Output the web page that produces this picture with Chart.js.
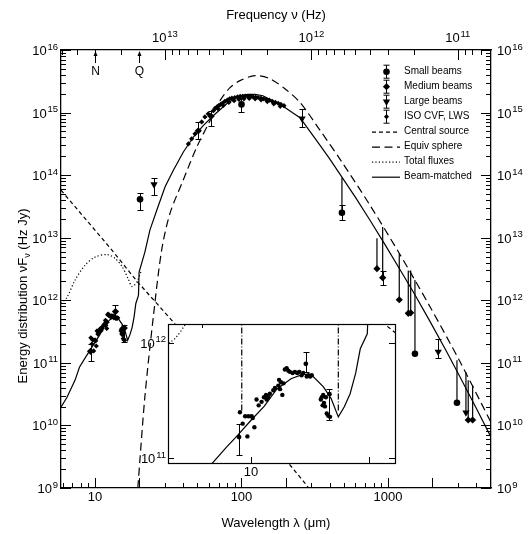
<!DOCTYPE html>
<html>
<head>
<meta charset="utf-8">
<title>Spectral energy distribution</title>
<script src="https://cdn.jsdelivr.net/npm/chart.js@4.4.1/dist/chart.umd.min.js"></script>
<style>
  html, body { margin: 0; padding: 0; background: #fff; }
  #wrap { position: relative; width: 529px; height: 534px; }
  #sed { position: absolute; left: 0; top: 0; }
  #zoom { position: absolute; left: 130px; top: 316px; }
</style>
</head>
<body>
<div id="wrap">
  <canvas id="sed" width="529" height="534"></canvas>
  <canvas id="zoom" width="270" height="175"></canvas>
</div>
<script>
const FONT = '"Liberation Sans", Arial, Helvetica, sans-serif';
const C_UM = 2.998e14; // speed of light in um*Hz

// axis ranges
const waveMin = 5.86, waveMax = 5050;
const fluxMin = 1e9, fluxMax = 1e16;
const zoomWaveMin = 6.14, zoomWaveMax = 23.3;
const zoomFluxMin = 9.12e10, zoomFluxMax = 1.46e12;

// labelled ticks
const waveLabels = [10, 100, 1000];
const freqLabels = [1e11, 1e12, 1e13];
const fluxLabels = [1e9, 1e10, 1e11, 1e12, 1e13, 1e14, 1e15, 1e16];

// atmospheric windows marked along the top
const bandNames = ['N', 'Q'];
const bandWave = [10, 20];

// photometry, wavelength in um, nuFnu in Hz Jy
const smallWave = [20.3, 100, 485, 1528, 2958];
const smallFlux = [4.1e13, 1.35e15, 2.5e13, 1.4e11, 2.3e10];
const smallLow  = [2.8e13, 1.02e15, 1.9e13, null, null];
const smallHigh = [5.1e13, 1.74e15, 3.3e13, null, null];

const mediumWave = [9.32, 13.8, 15.85, 50.7, 62, 841, 920, 1194, 1376, 1429, 3530, 3784];
const mediumFlux = [1.53e11, 6.6e11, 3.6e11, 5.1e14, 8.7e14, 3.2e12, 2.3e12, 1.02e12, 6.2e11, 6.3e11, 1.22e10, 1.22e10];
const mediumLow  = [1.08e11, 5.6e11, 2.15e11, 3.8e14, 6.2e14, null, 1.74e12, null, null, null, null, null];
const mediumHigh = [2.0e11, 8.3e11, 4.0e11, 7.1e14, 1.07e15, null, 2.9e12, null, null, null, null, null];

const largeWave = [25.3, 259, 2203, 3406];
const largeFlux = [7.1e13, 8.0e14, 1.5e11, 1.6e10];
const largeLow  = [4.8e13, 5.8e14, 1.19e11, null];
const largeHigh = [8.9e13, 1.15e15, 2.45e11, null];

// ISO spectra
const cvfWave = [9.37, 9.52, 9.66, 9.79, 9.85, 10.04, 10.1, 10.2, 10.33, 10.46,
  10.64, 10.79, 10.92, 10.96, 11.07, 11.17, 11.40, 11.51, 11.74, 11.79,
  11.86, 11.92, 12.02, 12.10, 12.20, 12.33, 12.45, 12.56, 12.77, 12.94,
  13.12, 13.28, 13.46, 13.59, 13.87, 14.00, 14.15, 14.29, 15.07, 15.15,
  15.23, 15.28, 15.35, 15.44, 15.53, 15.60, 15.74, 15.91];
const cvfFlux = [2.51e11, 2.0e11, 2.32e11, 1.55e11, 2.32e11, 2.32e11, 2.24e11, 1.86e11, 3.24e11, 2.88e11,
  3.09e11, 3.39e11, 3.55e11, 3.24e11, 3.39e11, 3.63e11, 3.89e11, 4.07e11, 4.27e11, 4.79e11,
  3.98e11, 4.57e11, 3.55e11, 4.47e11, 5.89e11, 6.03e11, 5.75e11, 5.62e11, 5.50e11, 5.62e11,
  5.50e11, 5.62e11, 5.25e11, 5.50e11, 5.13e11, 5.25e11, 5.13e11, 5.25e11, 3.24e11, 3.39e11,
  2.88e11, 3.55e11, 3.02e11, 2.82e11, 3.39e11, 2.45e11, 2.34e11, 2.29e11];
const lwsWave = [43.4, 45.7, 48.2, 53.5, 56.3, 59.3, 64.2, 66, 68, 70,
  72, 74, 77, 80, 83, 86, 90, 94, 98, 102,
  106, 110, 115, 120, 125, 130, 136, 142, 148, 155,
  162, 170, 178, 186, 195,
  69, 75, 82, 89, 96, 104, 113, 124, 136, 150, 166, 184];
const lwsFlux = [3.16e14, 3.80e14, 4.57e14, 7.08e14, 8.51e14, 9.55e14, 1.07e15, 1.17e15, 1.23e15, 1.29e15,
  1.35e15, 1.41e15, 1.51e15, 1.58e15, 1.66e15, 1.70e15, 1.74e15, 1.78e15, 1.82e15, 1.82e15,
  1.84e15, 1.82e15, 1.82e15, 1.78e15, 1.76e15, 1.74e15, 1.70e15, 1.66e15, 1.62e15, 1.58e15,
  1.51e15, 1.46e15, 1.41e15, 1.35e15, 1.29e15,
  1.15e15, 1.30e15, 1.45e15, 1.55e15, 1.62e15, 1.66e15, 1.68e15, 1.66e15, 1.60e15, 1.50e15, 1.38e15, 1.26e15];

// models
const centralWave = [5.86, 12.65, 19.4, 35.2, 100, 271, 300];
const centralFlux = [5.75e13, 6.92e12, 2.0e12, 4.17e11, 2.0e10, 1.2e9, 8.7e8];

const sphereWave = [19.0, 19.6, 21.9, 25.0, 28.5, 32.5, 39.9, 49.5, 61.0, 71.3, 83.5, 97.7,
  123.7, 156.6, 198, 251, 344, 485, 754, 1207, 1935, 3098, 5050];
const sphereFlux = [4e8, 1.0e9, 2.86e10, 5.4e11, 6.3e12, 2.45e13, 8.2e13, 2.8e14, 7.4e14, 1.55e15, 2.5e15, 3.24e15,
  3.9e15, 3.47e15, 2.4e15, 1.45e15, 5.2e14, 1.62e14, 3.3e13, 5.4e12, 7.9e11, 1.05e11, 1.12e10];

const totalWave = [5.86, 6.44, 7.30, 8.55, 10.0, 12.1, 13.7, 15.3, 16.8, 17.9, 19.4, 20.6];
const totalFlux = [8.9e11, 1.12e12, 2.09e12, 3.63e12, 4.9e12, 5.37e12, 4.68e12, 3.47e12, 2.24e12, 1.66e12, 2.0e12, 2.88e12];

const beamWave = [5.86, 6.44, 7.3, 7.83, 8.67, 9.19, 10.0, 10.8, 11.63, 12.65,
  13.6, 14.3, 15.3, 16.0, 16.7, 17.3, 17.9, 18.5, 19.0, 19.8,
  20.0, 21.9, 23.7, 26.4, 30.1, 34.2, 40.1, 46.9, 54.8, 64.1,
  79.3, 88, 97.7, 110, 123.7, 140, 156.6, 176, 198, 222,
  251, 290, 344, 400, 485, 600, 754, 950, 1207, 1500,
  1935, 2500, 3098, 4000, 5050];
const beamFlux = [1.95e10, 2.82e10, 5.25e10, 8.5e10, 1.26e11, 1.55e11, 2.14e11, 2.82e11, 3.98e11, 4.9e11,
  5.37e11, 5.25e11, 4.17e11, 3.31e11, 2.29e11, 2.8e11, 3.63e11, 5.5e11, 8.9e11, 1.2e12,
  2.82e12, 5.9e12, 1.32e13, 2.75e13, 6.5e13, 1.19e14, 2.34e14, 4.07e14, 6.2e14, 8.9e14,
  1.38e15, 1.62e15, 1.86e15, 1.95e15, 1.95e15, 1.86e15, 1.62e15, 1.4e15, 1.2e15, 1.0e15,
  8.3e14, 5.2e14, 3.0e14, 1.82e14, 9.3e13, 4.4e13, 1.9e13, 7.9e12, 3.1e12, 1.32e12,
  4.6e11, 1.55e11, 6.0e10, 1.9e10, 6.5e9];

// beam-matched model values at the long-wavelength points
const barWave   = [485, 841, 920, 1194, 1376, 1429, 1528, 2958, 3406, 3530, 3784];
const barTop    = [9.1e13, 9.8e12, 1.48e13, 5.6e12, 3.0e12, 3.0e12, 2.1e12, 1.1e11, 7.1e10, 5.25e10, 4.4e10];
const barBottom = [2.5e13, 3.2e12, 2.3e12, 1.02e12, 6.2e11, 6.3e11, 1.4e11, 2.3e10, 1.6e10, 1.22e10, 1.22e10];

// silicate feature limits shown in the zoom panel
const featureWave = [9.47, 16.7];
const featureFlux = [2.6e11, 1.5e12];

Chart.defaults.font.family = FONT;

const pts = (xs, ys) => xs.map((x, i) => ({ x: x, y: ys[i] }));
const segs = (xs, lo, hi) => xs.flatMap((x, i) => [{ x: x, y: lo[i] }, { x: x, y: hi[i] }, { x: x, y: null }]);

function logTicks(lo, hi) {
  const out = [];
  for (let e = Math.floor(Math.log10(lo)); e <= Math.ceil(Math.log10(hi)); e++) {
    for (let m = 1; m < 10; m++) {
      const v = m * Math.pow(10, e);
      if (v >= lo * 0.9999 && v <= hi * 1.0001) out.push(v);
    }
  }
  return out;
}
const isDecade = v => Math.abs(Math.log10(v) - Math.round(Math.log10(v))) < 1e-6;
const lead = v => Math.round(v / Math.pow(10, Math.floor(Math.log10(v) + 1e-9)));

function logAxis(values, extra) {
  return Object.assign({
    type: 'logarithmic',
    grid: { display: false, drawTicks: false },
    border: { display: true, color: '#000', width: 1.3 },
    ticks: { display: false, autoSkip: false },
    afterBuildTicks: s => { s.ticks = values.map(v => ({ value: v })); }
  }, extra);
}

function drawPow(ctx, value, x, y, align) {
  const base = '10', sup = String(Math.round(Math.log10(value)));
  ctx.font = '13px ' + FONT;
  const wb = ctx.measureText(base).width;
  ctx.font = '9.5px ' + FONT;
  const ws = ctx.measureText(sup).width;
  const w = wb + 0.8 + ws;
  const x0 = align === 'right' ? x - w : align === 'center' ? x - w / 2 : x;
  ctx.textAlign = 'left';
  ctx.textBaseline = 'alphabetic';
  ctx.font = '13px ' + FONT;
  ctx.fillText(base, x0, y + 5);
  ctx.font = '9.5px ' + FONT;
  ctx.fillText(sup, x0 + wb + 0.8, y - 0.5);
}

function drawMark(ctx, style, r, rot, x, y) {
  ctx.beginPath();
  if (style === 'circle') {
    ctx.arc(x, y, r, 0, Math.PI * 2);
  } else if (style === 'rectRot') {
    ctx.moveTo(x, y - r); ctx.lineTo(x + r, y); ctx.lineTo(x, y + r); ctx.lineTo(x - r, y); ctx.closePath();
  } else {
    const s = rot ? -1 : 1;
    ctx.moveTo(x, y - s * r);
    ctx.lineTo(x + r * 0.866, y + s * r / 2);
    ctx.lineTo(x - r * 0.866, y + s * r / 2);
    ctx.closePath();
  }
  ctx.fill();
}

function capBar(ctx, x, y1, y2, w) {
  ctx.beginPath();
  ctx.moveTo(x, y1); ctx.lineTo(x, y2);
  ctx.moveTo(x - w, y1); ctx.lineTo(x + w, y1);
  ctx.moveTo(x - w, y2); ctx.lineTo(x + w, y2);
  ctx.stroke();
}

const errorBars = {
  id: 'errorBars',
  afterDatasetsDraw(chart) {
    const { ctx, chartArea: a } = chart;
    ctx.save();
    ctx.beginPath();
    ctx.rect(a.left, a.top, a.right - a.left, a.bottom - a.top);
    ctx.clip();
    ctx.strokeStyle = '#000';
    ctx.lineWidth = 1;
    chart.data.datasets.forEach(ds => {
      if (!ds.lo) return;
      const xs = chart.scales.x, ys = chart.scales.y;
      ds.data.forEach((p, j) => {
        if (ds.lo[j] == null || ds.hi[j] == null) return;
        const x = Math.round(xs.getPixelForValue(p.x)) + 0.5;
        capBar(ctx, x, Math.round(ys.getPixelForValue(ds.lo[j])) + 0.5, Math.round(ys.getPixelForValue(ds.hi[j])) + 0.5, 3);
      });
    });
    ctx.restore();
  }
};

// inward tick marks, tick labels, titles and anything else drawn around the frame
function axisDecor(spec) {
  return {
    id: 'axisDecor',
    afterDraw(chart) {
      const { ctx, chartArea: a } = chart;
      ctx.save();
      ctx.strokeStyle = '#000';
      ctx.fillStyle = '#000';
      ctx.lineWidth = 1;
      spec.ticks.forEach(t => {
        const s = chart.scales[t.scale];
        t.values.forEach(v => {
          const len = t.len(v);
          const p = Math.round(s.getPixelForValue(v)) + 0.5;
          ctx.beginPath();
          if (t.side === 'bottom') { ctx.moveTo(p, a.bottom); ctx.lineTo(p, a.bottom - len); }
          if (t.side === 'top') { ctx.moveTo(p, a.top); ctx.lineTo(p, a.top + len); }
          if (t.side === 'left') { ctx.moveTo(a.left, p); ctx.lineTo(a.left + len, p); }
          if (t.side === 'right') { ctx.moveTo(a.right, p); ctx.lineTo(a.right - len, p); }
          ctx.stroke();
        });
      });
      spec.labels.forEach(l => {
        const s = chart.scales[l.scale];
        l.values.forEach(v => {
          const p = s.getPixelForValue(v);
          if (l.side === 'left') drawPow(ctx, v, a.left - l.gap, p, 'right');
          if (l.side === 'right') drawPow(ctx, v, a.right + l.gap, p, 'left');
          if (l.side === 'top') drawPow(ctx, v, p, a.top - l.gap, 'center');
          if (l.side === 'bottom') {
            ctx.font = '13px ' + FONT;
            ctx.textAlign = 'center';
            ctx.textBaseline = 'middle';
            ctx.fillText(String(v), p, a.bottom + l.gap);
          }
        });
      });
      if (spec.extra) spec.extra(chart, ctx, a);
      ctx.restore();
    }
  };
}

const dark = { borderColor: '#000', backgroundColor: '#000', pointBackgroundColor: '#000', pointBorderWidth: 0 };
const marker = Object.assign({ showLine: false }, dark);
const curve = Object.assign({ showLine: true, pointRadius: 0, borderWidth: 1.2, borderCapStyle: 'butt' }, dark);

const sedDatasets = [
  Object.assign({ label: 'Small beams', data: pts(smallWave, smallFlux), lo: smallLow, hi: smallHigh,
    pointStyle: 'circle', pointRadius: 3.3 }, marker),
  Object.assign({ label: 'Medium beams', data: pts(mediumWave, mediumFlux), lo: mediumLow, hi: mediumHigh,
    pointStyle: 'rectRot', pointRadius: 3.6 }, marker),
  Object.assign({ label: 'Large beams', data: pts(largeWave, largeFlux), lo: largeLow, hi: largeHigh,
    pointStyle: 'triangle', pointRotation: 180, pointRadius: 4.2 }, marker),
  Object.assign({ label: 'ISO CVF, LWS', data: pts(cvfWave.concat(lwsWave), cvfFlux.concat(lwsFlux)),
    pointStyle: 'rectRot', pointRadius: 2.6 }, marker),
  Object.assign({ label: 'Central source', data: pts(centralWave, centralFlux), borderDash: [4, 3] }, curve),
  Object.assign({ label: 'Equiv sphere', data: pts(sphereWave, sphereFlux), borderDash: [8, 4.5], tension: 0.3 }, curve),
  Object.assign({ label: 'Total fluxes', data: pts(totalWave, totalFlux), borderDash: [1.2, 2.2], tension: 0.3 }, curve),
  Object.assign({ label: 'Beam-matched', data: pts(beamWave, beamFlux), borderWidth: 1.3 }, curve),
  Object.assign({ label: 'Beam-matched points', data: segs(barWave, barTop, barBottom), spanGaps: false, borderWidth: 1.7 }, curve)
];

const fluxTickLen = v => isDecade(v) ? 10 : 5;

new Chart(document.getElementById('sed'), {
  type: 'scatter',
  data: { datasets: sedDatasets },
  options: {
    responsive: false,
    animation: false,
    devicePixelRatio: 1,
    events: [],
    layout: { padding: 0, autoPadding: false },
    plugins: { legend: { display: false }, tooltip: { enabled: false } },
    scales: {
      x: logAxis(logTicks(waveMin, waveMax), { position: 'bottom', min: waveMin, max: waveMax,
        afterFit: s => { s.height = 46; } }),
      x2: logAxis(logTicks(C_UM / waveMax, C_UM / waveMin), { position: 'top', axis: 'x', reverse: true,
        min: C_UM / waveMax, max: C_UM / waveMin, afterFit: s => { s.height = 50; } }),
      y: logAxis(logTicks(fluxMin, fluxMax), { position: 'left', min: fluxMin, max: fluxMax,
        afterFit: s => { s.width = 61; } }),
      y2: logAxis(logTicks(fluxMin, fluxMax), { position: 'right', axis: 'y', min: fluxMin, max: fluxMax,
        afterFit: s => { s.width = 38; } })
    }
  },
  plugins: [errorBars, axisDecor({
    ticks: [
      { scale: 'x', side: 'bottom', values: logTicks(waveMin, waveMax), len: v => (lead(v) === 1 || lead(v) === 2) ? 10 : 5 },
      { scale: 'x2', side: 'top', values: logTicks(C_UM / waveMax, C_UM / waveMin), len: fluxTickLen },
      { scale: 'y', side: 'left', values: logTicks(fluxMin, fluxMax), len: fluxTickLen },
      { scale: 'y2', side: 'right', values: logTicks(fluxMin, fluxMax), len: fluxTickLen }
    ],
    labels: [
      { scale: 'y', side: 'left', values: fluxLabels, gap: 3 },
      { scale: 'y2', side: 'right', values: fluxLabels, gap: 6 },
      { scale: 'x', side: 'bottom', values: waveLabels, gap: 9.5 },
      { scale: 'x2', side: 'top', values: freqLabels, gap: 13 }
    ],
    extra(chart, ctx, a) {
      const cx = (a.left + a.right) / 2;
      ctx.font = '13px ' + FONT;
      ctx.textAlign = 'center';
      ctx.textBaseline = 'middle';
      ctx.fillText('Frequency \u03bd (Hz)', cx, 15);
      ctx.fillText('Wavelength \u03bb (\u03bcm)', cx, 523);

      // vertical axis title with a subscript nu
      ctx.save();
      ctx.translate(22, 296);
      ctx.rotate(-Math.PI / 2);
      const p1 = 'Energy distribution \u03bdF', p2 = '\u03bd', p3 = ' (Hz Jy)';
      ctx.font = '13px ' + FONT;
      const w1 = ctx.measureText(p1).width, w3 = ctx.measureText(p3).width;
      ctx.font = '9px ' + FONT;
      const w2 = ctx.measureText(p2).width;
      let x0 = -(w1 + w2 + w3) / 2;
      ctx.textAlign = 'left';
      ctx.textBaseline = 'alphabetic';
      ctx.font = '13px ' + FONT;
      ctx.fillText(p1, x0, 4.5);
      ctx.font = '9px ' + FONT;
      ctx.fillText(p2, x0 + w1, 7.5);
      ctx.font = '13px ' + FONT;
      ctx.fillText(p3, x0 + w1 + w2, 4.5);
      ctx.restore();

      // N and Q band arrows
      const xs = chart.scales.x;
      ctx.lineWidth = 1;
      bandWave.forEach((w, i) => {
        const x = Math.round(xs.getPixelForValue(w)) + 0.5;
        ctx.beginPath();
        ctx.moveTo(x, a.top + 13);
        ctx.lineTo(x, a.top + 3);
        ctx.stroke();
        ctx.beginPath();
        ctx.moveTo(x, a.top + 1);
        ctx.lineTo(x - 2, a.top + 6);
        ctx.lineTo(x + 2, a.top + 6);
        ctx.closePath();
        ctx.fill();
        ctx.font = '12px ' + FONT;
        ctx.textAlign = 'center';
        ctx.textBaseline = 'middle';
        ctx.fillText(bandNames[i], x, a.top + 22);
      });

      // legend
      const mx = 386, tx = 404, y0 = 71.7, dy = 15;
      chart.data.datasets.slice(0, 8).forEach((ds, i) => {
        const y = y0 + i * dy;
        if (!ds.showLine) {
          capBar(ctx, mx + 0.5, y - 6.5, y + 6.5, 3);
          drawMark(ctx, ds.pointStyle, ds.pointRadius, ds.pointRotation, mx + 0.5, y);
        } else {
          ctx.save();
          ctx.lineWidth = ds.borderWidth;
          ctx.setLineDash(ds.borderDash || []);
          ctx.beginPath();
          ctx.moveTo(372, y + 0.5);
          ctx.lineTo(400, y + 0.5);
          ctx.stroke();
          ctx.restore();
        }
        ctx.font = '10px ' + FONT;
        ctx.textAlign = 'left';
        ctx.textBaseline = 'middle';
        ctx.fillText(ds.label, tx, y);
      });
    }
  })]
});

// zoom panel on the mid-infrared part
const paper = {
  id: 'paper',
  beforeDraw(chart) {
    const { ctx, chartArea: a } = chart;
    ctx.save();
    ctx.fillStyle = '#fff';
    ctx.fillRect(a.left, a.top, a.right - a.left, a.bottom - a.top);
    ctx.restore();
  },
  afterDraw(chart) {
    const { ctx, chartArea: a } = chart;
    ctx.save();
    ctx.strokeStyle = '#000';
    ctx.lineWidth = 1.2;
    ctx.strokeRect(Math.round(a.left) + 0.5, Math.round(a.top) + 0.5, Math.round(a.right - a.left), Math.round(a.bottom - a.top));
    ctx.restore();
  }
};

new Chart(document.getElementById('zoom'), {
  type: 'scatter',
  data: {
    datasets: [
      Object.assign({ label: 'Medium beams', data: pts(mediumWave, mediumFlux), lo: mediumLow, hi: mediumHigh,
        pointStyle: 'circle', pointRadius: 2.4 }, marker),
      Object.assign({ label: 'ISO CVF, LWS', data: pts(cvfWave, cvfFlux), pointStyle: 'circle', pointRadius: 2.2 }, marker),
      Object.assign({ label: 'Central source', data: pts(centralWave, centralFlux), borderDash: [4, 3] }, curve),
      Object.assign({ label: 'Total fluxes', data: pts(totalWave, totalFlux), borderDash: [1.2, 2.2], tension: 0.3 }, curve),
      Object.assign({ label: 'Beam-matched', data: pts(beamWave, beamFlux), borderWidth: 1.2 }, curve),
      Object.assign({ label: 'Features', spanGaps: false, borderWidth: 0.9, borderDash: [6, 2, 1, 2],
        data: segs(featureWave, featureWave.map(() => featureFlux[0]), featureWave.map(() => featureFlux[1])) }, curve)
    ]
  },
  options: {
    responsive: false,
    animation: false,
    devicePixelRatio: 1,
    events: [],
    layout: { padding: { top: 8, right: 5, left: 0, bottom: 0 }, autoPadding: false },
    plugins: { legend: { display: false }, tooltip: { enabled: false } },
    scales: {
      x: logAxis(logTicks(zoomWaveMin, zoomWaveMax), { position: 'bottom', min: zoomWaveMin, max: zoomWaveMax,
        border: { display: false }, afterFit: s => { s.height = 28; } }),
      y: logAxis(logTicks(zoomFluxMin, zoomFluxMax), { position: 'left', min: zoomFluxMin, max: zoomFluxMax,
        border: { display: false }, afterFit: s => { s.width = 38; } })
    }
  },
  plugins: [paper, errorBars, axisDecor({
    ticks: [
      { scale: 'x', side: 'bottom', values: [10, 20], len: () => 6 },
      { scale: 'x', side: 'top', values: [C_UM / 4e13], len: () => 4 },
      { scale: 'y', side: 'left', values: [1e11, 1e12], len: () => 6 },
      { scale: 'y', side: 'right', values: [1e11, 1e12], len: () => 6 }
    ],
    labels: [
      { scale: 'y', side: 'left', values: [1e11, 1e12], gap: 2 },
      { scale: 'x', side: 'bottom', values: [10], gap: 9.5 }
    ]
  })]
});
</script>
</body>
</html>
